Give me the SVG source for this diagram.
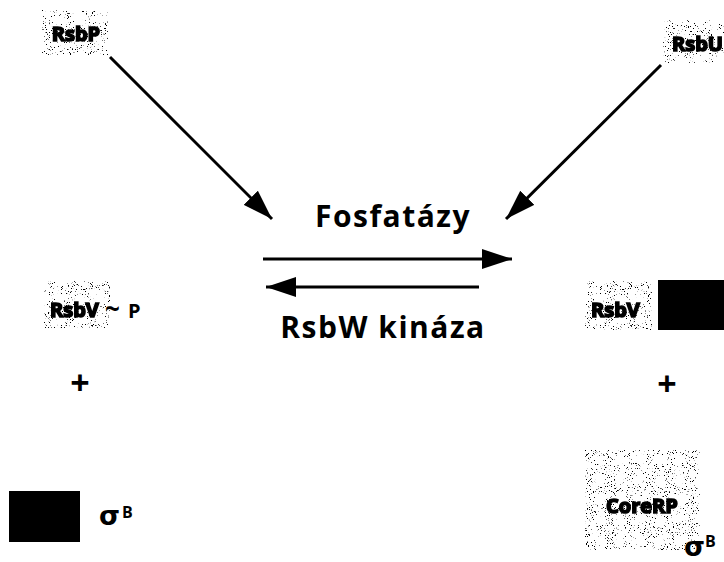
<svg xmlns="http://www.w3.org/2000/svg" width="724" height="562" viewBox="0 0 724 562">
  <style>
    .lbl { font-family: "Open Sans", "Liberation Sans", sans-serif; font-weight: 700; fill: #000; }
    .big { font-size: 30px; letter-spacing: 1.5px; }
    .tag { font-size: 20px; stroke: #000; stroke-width: 1.6px; filter: url(#smear); }
    .plus { font-size: 34px; }
    .sig { font-family: "DejaVu Sans", "Liberation Sans", sans-serif; font-weight: 700; font-size: 27px; }
    .sup { font-family: "Open Sans", "Liberation Sans", sans-serif; font-weight: 700; font-size: 16px; }
    .halo { fill: #000; filter: url(#grain); }
    .conn { stroke: #000; stroke-width: 3; fill: none; }
  </style>
  <defs>
    <!-- sparse speckled background behind the protein labels -->
    <filter id="grain" x="0" y="0" width="100%" height="100%">
      <feTurbulence type="fractalNoise" baseFrequency="0.95" numOctaves="2" seed="7" result="n"/>
      <feColorMatrix in="n" type="matrix" values="0 0 0 0 0  0 0 0 0 0  0 0 0 0 0  14 0 0 0 -9.1" result="dots"/>
      <feComposite in="dots" in2="SourceGraphic" operator="in"/>
    </filter>
    <filter id="smear" x="-10%" y="-20%" width="120%" height="140%">
      <feGaussianBlur stdDeviation="0.7"/>
    </filter>
    <marker id="head" viewBox="0 0 30 20" refX="30" refY="10" markerWidth="30" markerHeight="20" markerUnits="userSpaceOnUse" orient="auto">
      <path d="M0,0 L30,10 L0,20 Z" fill="#000"/>
    </marker>
  </defs>

  <!-- connectors -->
  <g id="connectors">
    <line class="conn" x1="110" y1="57" x2="272" y2="219" marker-end="url(#head)"/>
    <line class="conn" x1="661" y1="65" x2="506" y2="219" marker-end="url(#head)"/>
    <line class="conn" x1="263" y1="259" x2="512" y2="259" marker-end="url(#head)"/>
    <line class="conn" x1="479" y1="287" x2="266" y2="287" marker-end="url(#head)"/>
  </g>

  <g id="rsbP">
    <rect class="halo" x="42" y="10" width="66" height="45"/>
    <text class="lbl tag" x="76" y="41" text-anchor="middle">RsbP</text>
  </g>

  <g id="rsbU">
    <rect class="halo" x="663" y="20" width="61" height="43"/>
    <text class="lbl tag" x="672" y="51">RsbU</text>
  </g>

  <g id="fosfatazy">
    <text class="lbl big" x="393" y="227" text-anchor="middle">Fosfatázy</text>
  </g>

  <g id="rsbW-kinaza">
    <text class="lbl big" x="383" y="338" text-anchor="middle">RsbW kináza</text>
  </g>

  <g id="rsbV-P">
    <rect class="halo" x="44" y="281" width="66" height="47"/>
    <text class="lbl tag" x="50" y="317">RsbV</text>
    <text class="lbl" font-size="26" x="105" y="318">~</text>
    <text class="lbl" font-size="20" x="128" y="318">P</text>
  </g>

  <g id="plus-left">
    <text class="lbl plus" x="80" y="395" text-anchor="middle">+</text>
  </g>

  <g id="sigma-left">
    <rect x="9" y="491" width="71" height="51" fill="#000"/>
    <text class="sig" x="99" y="525">σ</text>
    <text class="sup" x="122" y="518">B</text>
  </g>

  <g id="rsbV-complex">
    <rect class="halo" x="585" y="281" width="67" height="49"/>
    <text class="lbl tag" x="591" y="317">RsbV</text>
    <rect x="658" y="280" width="66" height="50" fill="#000"/>
  </g>

  <g id="plus-right">
    <text class="lbl plus" x="667" y="396" text-anchor="middle">+</text>
  </g>

  <g id="coreRP">
    <rect class="halo" x="585" y="450" width="115" height="100"/>
    <text class="lbl tag" x="642" y="513" text-anchor="middle">CoreRP</text>
    <text class="sig" x="684" y="556">σ</text>
    <text class="sup" x="705" y="547">B</text>
  </g>
</svg>
